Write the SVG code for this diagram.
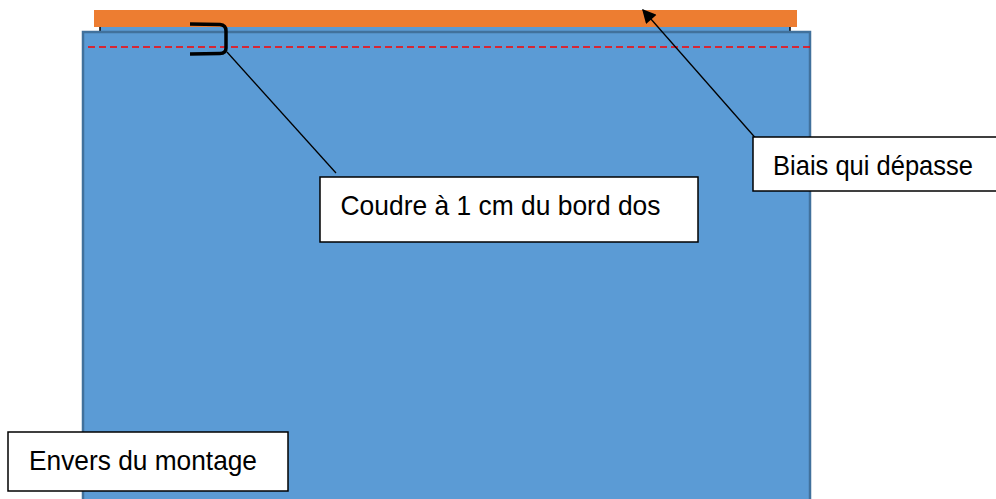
<svg xmlns="http://www.w3.org/2000/svg" width="996" height="499" viewBox="0 0 996 499">
<style>
.box{fill:#fff;stroke:#000;stroke-width:1.5}
.lbl{font-family:"Liberation Sans",Arial,sans-serif;font-size:27.5px;fill:#000}
.conn{stroke:#000;stroke-width:1.3;fill:none}
</style>
<defs>
<marker id="arr" viewBox="0 0 10 10" refX="9" refY="5" markerWidth="17" markerHeight="14" markerUnits="userSpaceOnUse" orient="auto">
<path d="M0,0 L10,5 L0,10 z" fill="#000"/>
</marker>
</defs>
<rect width="996" height="499" fill="#fff"/>
<g id="fabric">
<rect x="100" y="22" width="690" height="14" fill="#5B9BD5" stroke="#000" stroke-width="1.5"/>
<rect x="83" y="32" width="727" height="480" fill="#5B9BD5" stroke="#41719C" stroke-width="2.5"/>
<line x1="88" y1="47" x2="810" y2="47" stroke="#FF0000" stroke-width="1.5" stroke-dasharray="7 4"/>
</g>
<g id="biais">
<rect x="94" y="10" width="703" height="17" fill="#ED7D31"/>
</g>
<g id="bracket">
<path d="M190,24 L220,24.5 Q226,25 226,31 L226,48 Q226,53.5 220,53.5 L190,54" fill="none" stroke="#000" stroke-width="3.5"/>
</g>
<g id="connectors">
<line class="conn" x1="227" y1="52" x2="336" y2="173"/>
<line class="conn" x1="759" y1="142" x2="643" y2="10" stroke-width="1.5" marker-end="url(#arr)"/>
</g>
<g id="label-coudre">
<rect class="box" x="320" y="177" width="378" height="65"/>
<text class="lbl" x="340.5" y="215" textLength="320" lengthAdjust="spacingAndGlyphs">Coudre à 1 cm du bord dos</text>
</g>
<g id="label-biais">
<rect class="box" x="753" y="137" width="250" height="54"/>
<text class="lbl" x="773" y="175" textLength="200" lengthAdjust="spacingAndGlyphs">Biais qui dépasse</text>
</g>
<g id="label-envers">
<rect class="box" x="8" y="432" width="280" height="59"/>
<text class="lbl" x="29" y="470" textLength="228" lengthAdjust="spacingAndGlyphs">Envers du montage</text>
</g>
</svg>
